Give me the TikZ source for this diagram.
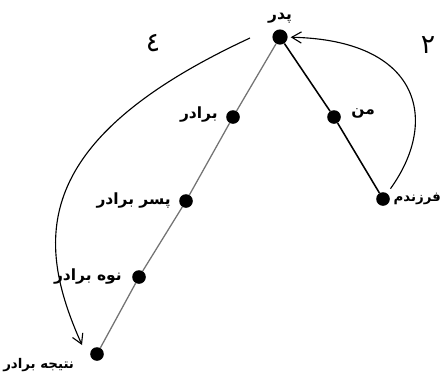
\documentclass[tikz,border=0pt]{standalone}
\usepackage{fontspec}
\usepackage{tikz}
\usetikzlibrary{positioning, arrows.meta}
\newfontfamily\arabicfont[Script=Arabic]{DejaVu Sans}
\TeXXeTstate=1
\newcommand{\fa}[1]{\arabicfont\beginR #1\endR}

\begin{document}
\begin{tikzpicture}[
  x=0.25mm, y=-0.25mm,
  dot/.style={circle, fill=black, minimum size=3.4mm, inner sep=0pt},
  lab/.style={font=\fontsize{11}{12}\selectfont\bfseries, inner sep=0pt},
  labs/.style={font=\fontsize{9.5}{10}\selectfont\bfseries, inner sep=0pt},
  num/.style={font=\fontsize{19}{19}\selectfont, inner sep=0pt},
  kin/.style={line width=1.1pt, draw=black},
  kin2/.style={line width=0.9pt, draw=black!55},
  jump/.style={-{Straight Barb[length=2.4mm, width=2.8mm]}, line width=0.8pt}
]
  \useasboundingbox (0,0) rectangle (441,372);

  % the family line
  \node[dot, minimum size=3.8mm] (pedar) at (280,37) {};
  \node[dot] (baradar) at (233,117) {};
  \node[dot] (pesar)   at (186,201) {};
  \node[dot] (naveh)   at (139,277) {};
  \node[dot] (natijeh) at (97,354)  {};
  \node[dot] (man)     at (334,117) {};
  \node[dot] (farzand) at (383,199) {};

  \node[lab, above=1.5mm of pedar]                 (lpedar)   {\fa{پدر}};
  \node[lab, left=2mm of baradar, yshift=0.5mm]    (lbaradar) {\fa{برادر}};
  \node[lab, left=2mm of pesar]                    (lpesar)   {\fa{پسر برادر}};
  \node[lab, left=2.5mm of naveh]                  (lnaveh)   {\fa{نوه برادر}};
  \node[labs, anchor=west] (lnatijeh) at (3,365)              {\fa{نتیجه برادر}};
  \node[lab, right=2.5mm of man, yshift=1mm]       (lman)     {\fa{من}};
  \node[labs, right=0.8mm of farzand]              (lfarzand) {\fa{فرزندم}};

  \draw[kin2] (pedar) -- (baradar) -- (pesar) -- (naveh) -- (natijeh);
  \draw[kin] (pedar) -- (man) -- (farzand);

  % the two jumps
  \coordinate (s4) at (250,38);
  \coordinate (e4) at (82,345);
  \draw[jump] (s4) .. controls (30,140) and (35,240) .. (e4);
  \draw[jump, shorten <=4pt, shorten >=2pt] (farzand) .. controls (440,120) and (420,40) .. (pedar);

  \node[num] (n4) at (153,43) {\fa{٤}};
  \node[num] (n2) at (428,45) {\fa{٢}};
\end{tikzpicture}
\end{document}
